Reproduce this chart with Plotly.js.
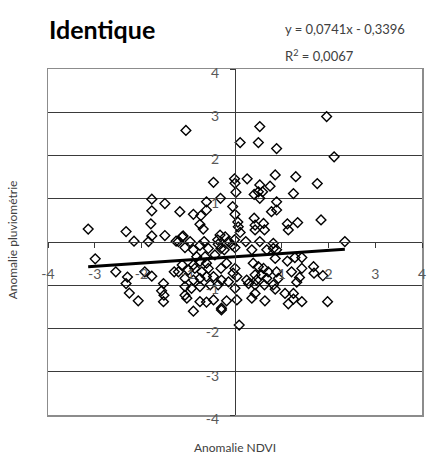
<!DOCTYPE html>
<html>
<head>
<meta charset="utf-8">
<script src="https://cdn.plot.ly/plotly-3.0.1.min.js"></script>
<style>html,body{margin:0;padding:0;background:#fff;}#chart{width:430px;height:466px;}</style>
</head>
<body>
<div id="chart"></div>
<script>
// Anomalie NDVI (x)
const ndvi = [
  -1.05,1.96,0.11,0.53,0.50,0.89,2.12,
  -0.46,-0.01,0.00,0.02,0.26,0.53,0.75,0.86,1.30,1.76,0.41,0.50,0.59,0.53,1.25,
  -0.61,-0.31,-1.78,-1.50,-1.78,-1.18,-0.89,-0.73,-0.61,-0.05,0.00,0.06,0.07,0.41,0.43,0.61,0.78,0.89,0.89,1.12,1.34,1.84,
  -0.75,-1.80,-3.14,-2.33,-1.78,-1.50,-1.11,-2.16,-1.85,-1.26,-0.68,0.43,0.63,
  -1.13,-1.21,-0.96,-0.66,-0.37,-0.36,-0.21,-0.14,-0.01,-0.06,0.23,0.53,0.82,1.14,2.35,-0.32,0.11,
  -1.07,-0.89,-0.75,-0.57,-0.30,-0.23,0.00,0.36,0.68,
  -0.82,-0.64,-0.43,
  -1.13,-0.89,-0.75,-0.61,-0.30,-0.18,0.00,-0.04,0.39,0.50,0.61,
  -1.21,-1.00,-0.86,-0.71,-0.57,-0.46,0.04,0.43,0.57,0.71,
  -1.07,-0.89,-0.75,-0.61,-0.29,-0.14,0.25,0.46,0.68,
  -1.07,-0.93,-0.75,-0.53,-0.36,0.00,0.29,0.43,0.63,
  -1.07,-1.03,-0.75,-0.61,-0.46,-0.29,-0.18,0.04,0.36,0.43,0.64,
  -0.89,-0.29,0.09,
  0.82,0.89,0.86,1.12,1.28,1.43,0.89,1.21,1.43,1.68,1.69,1.88,0.93,1.38,1.32,0.82,0.86,1.07,1.25,1.25,1.14,1.43,1.98,
  -2.99,-2.55,-2.30,-2.33,-2.26,-2.07,-1.93,-1.78,-1.53,-1.57,-1.52,-1.53,-1.30
];
// Anomalie pluviométrie (y)
const pluvio = [
  2.58,2.90,2.30,2.67,2.30,2.16,1.97,
  1.38,1.46,1.36,1.15,1.46,1.32,1.29,1.55,1.51,1.35,1.10,1.16,1.16,1.01,1.12,
  0.93,1.01,0.99,0.89,0.72,0.70,0.64,0.61,0.74,0.82,0.64,0.46,0.35,0.55,0.39,0.43,0.70,0.93,0.74,0.42,0.45,0.51,
  0.41,0.42,0.30,0.24,0.14,0.15,0.14,0.02,0.01,0.02,0.30,0.28,0.28,
  0.12,0.01,0.01,0.01,0.05,-0.05,0.12,0.01,0.05,-0.07,0.01,0.01,-0.03,0.28,0.01,0.16,0.22,
  -0.13,-0.18,-0.08,-0.15,-0.15,-0.18,-0.13,-0.18,-0.18,
  -0.34,-0.34,-0.30,
  -0.53,-0.53,-0.45,-0.49,-0.61,-0.49,-0.61,-0.72,-0.49,-0.57,-0.61,
  -0.69,-0.65,-0.61,-0.69,-0.61,-0.80,-0.80,-0.76,-0.76,-0.69,
  -0.84,-0.88,-0.84,-0.80,-0.88,-0.92,-0.88,-0.88,-0.84,
  -1.03,-1.07,-1.03,-0.99,-0.99,-1.07,-0.96,-0.99,-0.99,
  -1.23,-1.30,-1.38,-1.39,-1.34,-1.53,-1.36,-1.34,-1.30,-1.19,-1.36,
  -1.60,-1.57,-1.92,
  -0.15,-0.18,-0.38,-0.44,-0.36,-0.36,-0.69,-0.69,-0.61,-0.57,-0.72,-0.78,-0.84,-0.82,-0.93,-0.99,-1.09,-1.19,-1.19,-1.32,-1.43,-1.38,-1.38,
  -0.39,-0.69,-0.81,-0.96,-1.18,-1.36,-0.69,-0.79,-0.96,-1.13,-1.23,-1.38,-0.69
];
// Trend line coefficients (as printed on the chart)
const slope = 0.0741;
const intercept = -0.3396;
const tickVals = [-4,-3,-2,-1,1,2,3,4];
const tickText = ['-4','-3','-2','-1','1','2','3','4'];
const gridVals = [-3,-2,-1,0,1,2,3];

const xMin = Math.min(...ndvi), xMax = Math.max(...ndvi);
const trendX = [xMin, xMax];
const trendY = trendX.map(v => slope * v + intercept);

const FONT = 'Lato, "Open Sans", sans-serif';

const traces = [
  {
    x: ndvi, y: pluvio, type: 'scatter', mode: 'markers',
    xaxis: 'x', yaxis: 'y',
    marker: {symbol: 'diamond-open', size: 7.5, color: '#000', line: {width: 1.4, color: '#000'}},
    hoverinfo: 'skip'
  },
  {
    x: trendX, y: trendY, type: 'scatter', mode: 'lines',
    xaxis: 'x2', yaxis: 'y2',
    line: {color: '#000', width: 3},
    hoverinfo: 'skip'
  }
];

const layout = {
  width: 430, height: 466,
  margin: {l: 48, r: 8, t: 69, b: 51},
  paper_bgcolor: '#fff', plot_bgcolor: '#fff',
  showlegend: false,
  font: {family: FONT, color: '#595959', size: 13},
  xaxis: {
    range: [-4, 4], showgrid: false, zeroline: false,
    showticklabels: false, ticks: '',
    showline: true, mirror: true, linecolor: '#8c8c8c', linewidth: 1.5
  },
  yaxis: {
    range: [-4, 4], tickmode: 'array', tickvals: gridVals,
    showgrid: true, gridcolor: '#3a3a3a', gridwidth: 1, zeroline: false,
    showticklabels: false, ticks: '',
    showline: true, mirror: true, linecolor: '#8c8c8c', linewidth: 1.5
  },
  xaxis2: {
    overlaying: 'x', anchor: 'free', position: 0.5,
    range: [-4, 4], showgrid: false, zeroline: false,
    showline: true, linecolor: '#3a3a3a', linewidth: 1,
    tickmode: 'array', tickvals: tickVals, ticktext: tickText,
    ticks: 'outside', ticklen: 5, tickcolor: '#3a3a3a',
    ticklabelstandoff: 14,
    tickfont: {family: FONT, size: 14, color: '#595959'}
  },
  yaxis2: {
    overlaying: 'y', anchor: 'free', position: 0.5,
    range: [-4, 4], showgrid: false, zeroline: false,
    showline: true, linecolor: '#3a3a3a', linewidth: 1,
    tickmode: 'array', tickvals: tickVals, ticktext: tickText,
    ticks: 'outside', ticklen: 5, tickcolor: '#3a3a3a',
    ticklabelstandoff: 8, ticklabelshift: 4,
    tickfont: {family: FONT, size: 14, color: '#595959'}
  },
  annotations: [
    {text: '<b>Identique</b>', xref: 'paper', yref: 'paper', x: -0.003, y: 1.116,
     xanchor: 'left', yanchor: 'middle', showarrow: false,
     font: {family: FONT, size: 25, color: '#000'}},
    {text: 'y = 0,0741x - 0,3396', xref: 'paper', yref: 'paper', x: 0.628, y: 1.116,
     xanchor: 'left', yanchor: 'middle', showarrow: false,
     font: {family: FONT, size: 13, color: '#404040'}},
    {text: 'R<sup>2</sup> = 0,0067', xref: 'paper', yref: 'paper', x: 0.628, y: 1.04,
     xanchor: 'left', yanchor: 'middle', showarrow: false,
     font: {family: FONT, size: 13, color: '#404040'}},
    {text: 'Anomalie pluviométrie', xref: 'paper', yref: 'paper', x: -0.096, y: 0.505,
     xanchor: 'center', yanchor: 'middle', textangle: -90, showarrow: false,
     font: {family: FONT, size: 12, color: '#404040'}},
    {text: 'Anomalie NDVI', xref: 'paper', yref: 'paper', x: 0.5, y: -0.093,
     xanchor: 'center', yanchor: 'middle', showarrow: false,
     font: {family: FONT, size: 12, color: '#404040'}}
  ]
};

Plotly.newPlot('chart', traces, layout, {displayModeBar: false, staticPlot: true});
</script>
</body>
</html>
